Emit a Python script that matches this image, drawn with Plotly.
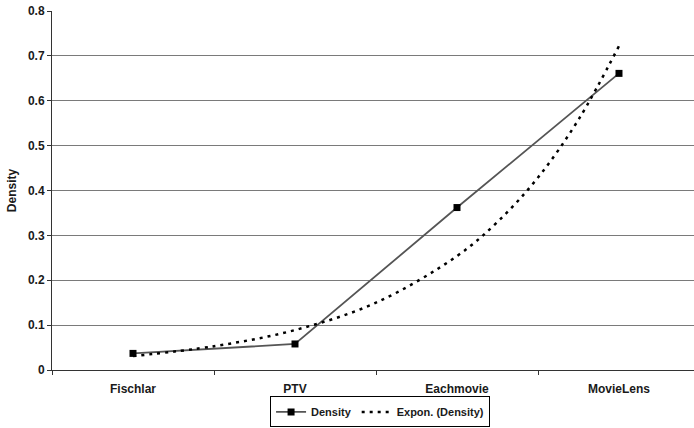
import plotly.graph_objects as go

categories = ["Fischlar", "PTV", "Eachmovie", "MovieLens"]
density = [0.037, 0.058, 0.362, 0.661]

# exponential trendline at fractional category positions
trend_x = [0, 0.5, 1, 1.5, 2, 2.25, 2.5, 2.75, 3]
trend_y = [0.031, 0.053, 0.089, 0.150, 0.254, 0.330, 0.429, 0.558, 0.722]

yticks = [0, 0.1, 0.2, 0.3, 0.4, 0.5, 0.6, 0.7, 0.8]

font = dict(family="Liberation Sans, Arial, sans-serif", size=12, color="#1a1a1a")

fig = go.Figure()
fig.add_trace(go.Scatter(
    x=list(range(len(categories))), y=density, name="<b>Density</b>",
    mode="lines+markers",
    line=dict(color="#555555", width=1.8),
    marker=dict(symbol="square", size=7, color="black"),
))
fig.add_trace(go.Scatter(
    x=trend_x, y=trend_y, name="<b>Expon. (Density)</b>",
    mode="lines", line=dict(color="black", width=2.5, dash="3px,5px", shape="spline"),
))

fig.update_layout(
    width=694, height=428,
    margin=dict(l=52, r=0, t=11, b=58),
    paper_bgcolor="white", plot_bgcolor="white",
    font=font,
    showlegend=True,
    legend=dict(orientation="h", xanchor="center", x=0.511, yanchor="bottom", y=-0.16,
                bordercolor="black", borderwidth=1, bgcolor="white",
                font=dict(size=11), itemwidth=30, tracegroupgap=0),
)
fig.update_xaxes(
    range=[-0.5, 3.463],
    tickmode="array", tickvals=list(range(len(categories))),
    ticktext=["<b>%s</b>" % c for c in categories],
    ticks="", showgrid=False, zeroline=False,
    showline=True, linecolor="#333", linewidth=1,
    minor=dict(tickmode="linear", tick0=0.5, dtick=1, ticks="outside", ticklen=4,
               tickcolor="#333", showgrid=False),
    ticklabelstandoff=8,
)
fig.update_yaxes(
    range=[0, 0.8],
    tickmode="array", tickvals=yticks,
    ticktext=["<b>%g</b>" % v for v in yticks],
    ticks="outside", ticklen=4, tickcolor="#333",
    showgrid=True, gridcolor="#7a7a7a", gridwidth=1,
    zeroline=False, showline=True, linecolor="#333", linewidth=1,
    title=dict(text="<b>Density</b>", font=dict(size=12), standoff=8),
)
fig.write_html("out.html")
